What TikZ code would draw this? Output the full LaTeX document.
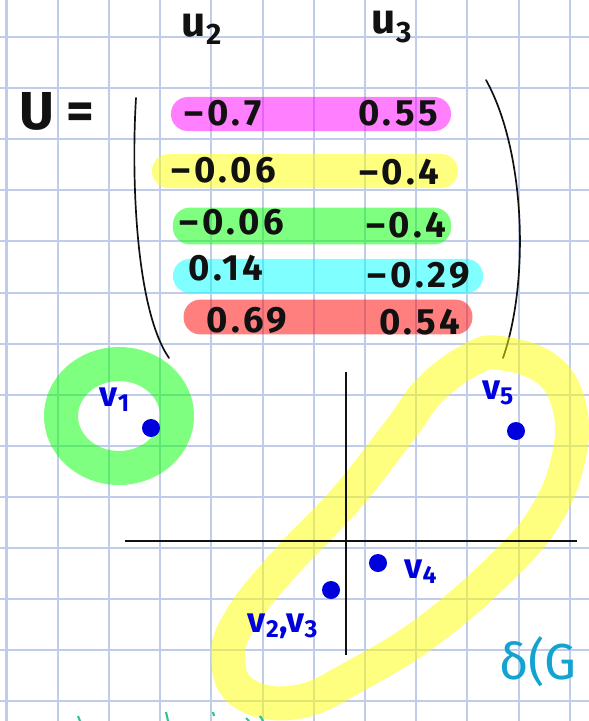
\documentclass[tikz,border=0pt]{standalone}
\usepackage{fontspec}
\setmainfont{Fira Sans}
\usetikzlibrary{positioning}
\definecolor{gridline}{HTML}{BFCDEB}
\definecolor{pen}{HTML}{111111}
\definecolor{bluepen}{HTML}{0000DD}
\definecolor{tealpen}{HTML}{12A3D0}
\definecolor{mintpen}{HTML}{2CC39A}
\definecolor{hlmagenta}{HTML}{FF00FF}
\definecolor{hlyellow}{HTML}{FFFF00}
\definecolor{hlgreen}{HTML}{00FF00}
\definecolor{hlcyan}{HTML}{00FFFF}
\definecolor{hlred}{HTML}{FF0000}
\tikzset{
  every node/.style={text=pen},
  hl/.style={fill=#1,fill opacity=0.5,rounded corners=0.42cm,minimum height=0.85cm,inner sep=0pt},
  val/.style={font=\fontsize{26}{30}\selectfont\bfseries\addfontfeatures{LetterSpace=10}},
  hdr/.style={font=\fontsize{30}{34}\selectfont\bfseries},
  vlabel/.style={text=bluepen,font=\fontsize{25}{29}\selectfont\bfseries},
  dot/.style={circle,fill=bluepen,minimum size=0.45cm,inner sep=0pt},
  marker/.style={draw=#1,draw opacity=0.5,line width=0.85cm,line join=round},
  axis/.style={draw=pen,line width=2pt},
  paren/.style={draw=pen,line width=1.2pt,line cap=round},
}
\begin{document}
\begin{tikzpicture}[x=0.025cm,y=-0.025cm]
  \useasboundingbox (0,0) rectangle (589,721);
  \clip (0,0) rectangle (589,721);
  \fill[white] (0,0) rectangle (589,721);
  % squared paper
  \foreach \gx in {0,...,11}
    \draw[gridline,line width=0.05cm] ({6.5+51.2*\gx},0) -- ({6.5+51.2*\gx},721);
  \foreach \gy in {0,...,13}
    \draw[gridline,line width=0.05cm] (0,{37+51.1*\gy}) -- (589,{37+51.1*\gy});

  % column headers and matrix
  \node[hdr] (u2) at (202,29) {u\textsubscript{2}};
  \node[hdr] (u3) at (392,27) {u\textsubscript{3}};
  \node[font=\fontsize{38}{42}\selectfont\bfseries] (Ueq) at (57,111) {U =};

  \node[hl=hlmagenta,minimum width=7.0cm] (row1) at (311,114) {};
  \node[hl=hlyellow,minimum width=7.65cm] (row2) at (305,171) {};
  \node[hl=hlgreen,minimum width=6.95cm,minimum height=0.92cm] (row3) at (312,226) {};
  \node[hl=hlcyan,minimum width=7.75cm] (row4) at (328,276) {};
  \node[hl=hlred,minimum width=7.22cm,minimum height=0.87cm] (row5) at (328,317) {};

  \node[val] (a1) at (223,113) {\textendash0.7};
  \node[val] (b1) at (398,113) {0.55};
  \node[val] (a2) at (224,170) {\textendash0.06};
  \node[val] (b2) at (399,172) {\textendash0.4};
  \node[val] (a3) at (232,222) {\textendash0.06};
  \node[val] (b3) at (406,225) {\textendash0.4};
  \node[val] (a4) at (226,268) {0.14};
  \node[val] (b4) at (419,275) {\textendash0.29};
  \node[val] (a5) at (247,320) {0.69};
  \node[val] (b5) at (420,322) {0.54};

  \draw[paren] (136,98) .. controls (131,180) and (136,310) .. (169,358);
  \draw[paren] (486,80) .. controls (525,150) and (530,280) .. (503,358);

  % clusters
  \draw[marker=hlgreen] (119,416) ellipse [x radius=1.45cm,y radius=1.3cm];
  \draw[marker=hlyellow] plot[smooth cycle,tension=0.7] coordinates {(500,353) (548,370) (570,410) (568,460) (547,513) (507,562) (432,628) (357,675) (297,702) (245,694) (228,660) (240,620) (285,563) (345,500) (400,430) (430,390) (470,360)};

  % axes
  \coordinate (xl) at (125,541);
  \coordinate (xr) at (577,541);
  \coordinate (yt) at (346,372);
  \coordinate (yb) at (346,655);
  \draw[axis] (xl) -- (xr);
  \draw[axis] (yt) -- (yb);

  % points
  \node[dot] (p1) at (151,428) {};
  \node[dot] (p5) at (516,431) {};
  \node[dot] (p4) at (378,563) {};
  \node[dot] (p23) at (331,590) {};
  \node[vlabel] (l1) at (115,400) {v\textsubscript{1}};
  \node[vlabel] (l5) at (498,393) {v\textsubscript{5}};
  \node[vlabel] (l4) at (421,572) {v\textsubscript{4}};
  \node[vlabel] (l23) at (283,626) {v\textsubscript{2},v\textsubscript{3}};

  \node[text=tealpen,font=\fontsize{36}{40}\selectfont] (dG) at (538,662) {δ(G};

  % cut-off writing at the bottom edge
  \draw[mintpen,line width=1.5pt] (78,716) -- (80,721);
  \draw[mintpen,line width=1.5pt] (166,712) -- (168,721);
  \draw[mintpen,line width=1.5pt] (213,712) -- (214,716);
  \draw[mintpen,line width=1.5pt] (246,718) -- (249,721);
  \draw[mintpen,line width=1.5pt] (260,716) -- (263,721);
\end{tikzpicture}
\end{document}
